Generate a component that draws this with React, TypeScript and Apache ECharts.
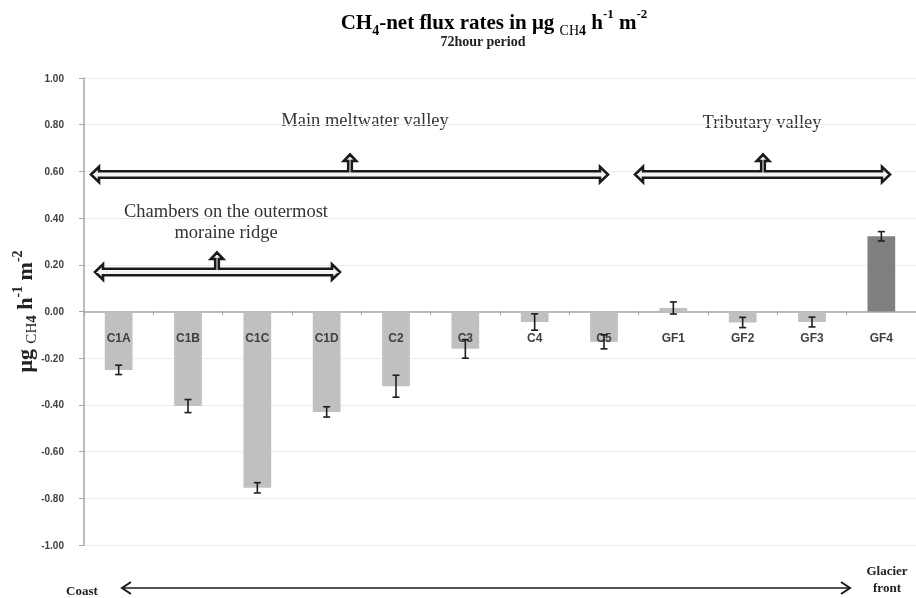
import React, { useEffect, useRef } from "react";
import * as echarts from "echarts";

const categories = ["C1A", "C1B", "C1C", "C1D", "C2", "C3", "C4", "C5", "GF1", "GF2", "GF3", "GF4"];
const fluxValues = [-0.25, -0.405, -0.755, -0.43, -0.32, -0.16, -0.045, -0.13, 0.015, -0.047, -0.045, 0.322];
const fluxErrors = [0.02, 0.028, 0.022, 0.022, 0.047, 0.04, 0.035, 0.03, 0.026, 0.022, 0.021, 0.02];
const darkCategories = ["GF4"];
const yTicks = { min: -1, max: 1, step: 0.2 };

const SERIF = "'Liberation Serif', 'DejaVu Serif', serif";
const SANS = "'Liberation Sans', Arial, sans-serif";

function blockArrow(x0: number, x1: number, xm: number, cy: number, ty: number) {
  const h = 3.2, H = 7.7, L = 8, w = 1.8, W = 6.2, UH = 6.5;
  const pts = [
    [x0, cy], [x0 + L, cy - H], [x0 + L, cy - h], [xm - w, cy - h], [xm - w, ty + UH], [xm - W, ty + UH],
    [xm, ty], [xm + W, ty + UH], [xm + w, ty + UH], [xm + w, cy - h], [x1 - L, cy - h], [x1 - L, cy - H],
    [x1, cy], [x1 - L, cy + H], [x1 - L, cy + h], [x0 + L, cy + h], [x0 + L, cy + H],
  ];
  return {
    type: "polygon",
    shape: { points: pts },
    style: { fill: "#f4f4f4", stroke: "#1a1a1a", lineWidth: 2.6, lineJoin: "miter" },
    z: 100,
  };
}

export default function App() {
  const ref = useRef<HTMLDivElement>(null);
  useEffect(() => {
    if (!ref.current) return;
    const chart = echarts.init(ref.current, null, { renderer: "svg" });
    const titleRich = {
      m: { fontFamily: SERIF, fontSize: 21, fontWeight: "bold", color: "#222", lineHeight: 30 },
      sub: { fontFamily: SERIF, fontSize: 14, fontWeight: "bold", color: "#222", lineHeight: 16, verticalAlign: "bottom" },
      subs: { fontFamily: SERIF, fontSize: 14, color: "#222", lineHeight: 18, verticalAlign: "bottom" },
      sub2: { fontFamily: SERIF, fontSize: 14, fontWeight: "bold", color: "#222", lineHeight: 12, verticalAlign: "bottom" },
      sup: { fontFamily: SERIF, fontSize: 13, fontWeight: "bold", color: "#222", lineHeight: 14, verticalAlign: "top" },
    };
    const nameRich = {
      m: { fontFamily: SERIF, fontSize: 22, fontWeight: "bold", color: "#222", lineHeight: 28 },
      subs: { fontFamily: SERIF, fontSize: 15, color: "#222", lineHeight: 17, verticalAlign: "bottom" },
      sub2: { fontFamily: SERIF, fontSize: 15, fontWeight: "bold", color: "#222", lineHeight: 12, verticalAlign: "bottom" },
      sup: { fontFamily: SERIF, fontSize: 14, fontWeight: "bold", color: "#222", lineHeight: 15, verticalAlign: "top" },
    };
    const annStyle = { fontFamily: SERIF, fontSize: 18.5, fill: "#333", align: "center", verticalAlign: "middle" };
    chart.setOption({
      animation: false,
      grid: { left: 84, right: 0, top: 78, bottom: 53, containLabel: false, outerBoundsMode: "none" },
      xAxis: {
        type: "category",
        data: categories,
        axisLine: { onZero: true, lineStyle: { color: "#a6a6a6", width: 1.5 } },
        axisTick: { show: true, interval: 0, length: 4, lineStyle: { color: "#a6a6a6" } },
        axisLabel: { show: false },
        splitLine: { show: false },
      },
      yAxis: {
        type: "value",
        min: yTicks.min,
        max: yTicks.max,
        interval: yTicks.step,
        name: "{m|μg }{subs|CH}{sub2|4}{m| h}{sup|-1}{m| m}{sup|-2}",
        nameLocation: "middle",
        nameRotate: 90,
        nameGap: 46,
        nameMoveOverlap: false,
        nameTextStyle: { rich: nameRich },
        axisLine: { show: true, lineStyle: { color: "#a6a6a6", width: 1.5 } },
        axisTick: { show: true, length: 5, lineStyle: { color: "#a6a6a6" } },
        axisLabel: {
          margin: 20,
          fontFamily: SANS,
          fontWeight: "bold",
          fontSize: 10,
          color: "#404040",
          formatter: (v: number) => (Math.abs(v) < 1e-9 ? 0 : v).toFixed(2),
        },
        splitLine: { show: true, lineStyle: { color: "#ececec", width: 1 } },
      },
      series: [
        {
          type: "bar",
          barWidth: "40%",
          data: fluxValues.map((v, i) => ({
            value: v,
            itemStyle: { color: darkCategories.includes(categories[i]) ? "#7f7f7f" : "#c0c0c0" },
          })),
          z: 2,
        },
        {
          type: "custom",
          z: 5,
          silent: true,
          data: categories.map((c, i) => [i, 0]),
          encode: { x: 0, y: 1 },
          renderItem: (params: any, api: any) => {
            const p = api.coord([api.value(0), 0]);
            return {
              type: "text",
              x: p[0],
              y: p[1] + 26,
              style: {
                text: categories[params.dataIndex],
                fontFamily: SANS,
                fontWeight: "bold",
                fontSize: 12,
                fill: "#404040",
                align: "center",
                verticalAlign: "middle",
              },
            };
          },
        },
        {
          type: "custom",
          z: 10,
          data: fluxValues.map((v, i) => [i, v, fluxErrors[i]]),
          encode: { x: 0, y: 1 },
          renderItem: (params: any, api: any) => {
            const x = api.value(0), v = api.value(1), e = api.value(2);
            const hi = api.coord([x, v + e]);
            const lo = api.coord([x, v - e]);
            const cw = 3.5;
            const st = { stroke: "#1e1e1e", lineWidth: 1.6 };
            return {
              type: "group",
              children: [
                { type: "line", shape: { x1: hi[0], y1: hi[1], x2: lo[0], y2: lo[1] }, style: st },
                { type: "line", shape: { x1: hi[0] - cw, y1: hi[1], x2: hi[0] + cw, y2: hi[1] }, style: st },
                { type: "line", shape: { x1: lo[0] - cw, y1: lo[1], x2: lo[0] + cw, y2: lo[1] }, style: st },
              ],
            };
          },
        },
      ],
      graphic: [
        {
          type: "text",
          x: 494,
          y: 22,
          style: {
            text: "{m|CH}{sub|4}{m|-net flux rates in μg }{subs|CH}{sub2|4}{m| h}{sup|-1}{m| m}{sup|-2}",
            rich: titleRich,
            align: "center",
            verticalAlign: "middle",
          },
        },
        {
          type: "text",
          x: 483,
          y: 41,
          style: { text: "72hour period", fontFamily: SERIF, fontSize: 14, fontWeight: "bold", fill: "#222", align: "center", verticalAlign: "middle" },
        },
        { type: "text", x: 365, y: 120, style: { ...annStyle, text: "Main meltwater valley" } },
        { type: "text", x: 762, y: 122, style: { ...annStyle, text: "Tributary valley" } },
        { type: "text", x: 226, y: 221, style: { ...annStyle, text: "Chambers on the outermost\nmoraine ridge", lineHeight: 21 } },
        blockArrow(91, 608, 350, 174.5, 154.5),
        blockArrow(635, 890, 763, 174.5, 154.5),
        blockArrow(95, 340, 217, 272, 252.5),
        {
          type: "group",
          z: 100,
          children: [
            { type: "line", shape: { x1: 122, y1: 588, x2: 850, y2: 588 }, style: { stroke: "#1a1a1a", lineWidth: 1.6 } },
            { type: "polyline", shape: { points: [[131, 582], [122, 588], [131, 594]] }, style: { stroke: "#1a1a1a", lineWidth: 2, fill: "none" } },
            { type: "polyline", shape: { points: [[841, 582], [850, 588], [841, 594]] }, style: { stroke: "#1a1a1a", lineWidth: 2, fill: "none" } },
          ],
        },
        {
          type: "text",
          x: 82,
          y: 590,
          style: { text: "Coast", fontFamily: SERIF, fontSize: 13, fontWeight: "bold", fill: "#222", align: "center", verticalAlign: "middle" },
        },
        {
          type: "text",
          x: 887,
          y: 579,
          style: { text: "Glacier\nfront", lineHeight: 17, fontFamily: SERIF, fontSize: 13, fontWeight: "bold", fill: "#222", align: "center", verticalAlign: "middle" },
        },
      ],
    });
    return () => chart.dispose();
  }, []);
  return <div ref={ref} style={{ position: "fixed", left: 0, top: 0, width: 916, height: 598 }} />;
}
